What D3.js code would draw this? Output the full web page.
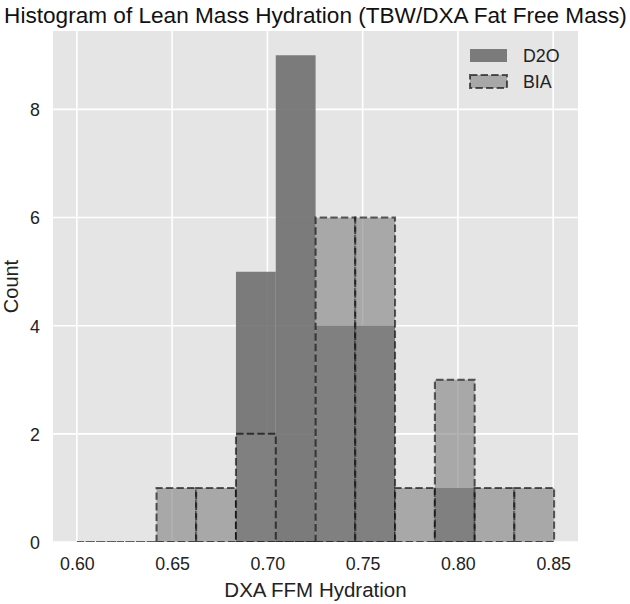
<!DOCTYPE html>
<html>
<head>
<meta charset="utf-8">
<script src="https://cdn.jsdelivr.net/npm/d3@7"></script>
<style>
  html, body { margin: 0; padding: 0; background: #ffffff; }
  svg { display: block; }
  text { font-family: "Liberation Sans", Arial, Helvetica, sans-serif; }
</style>
</head>
<body>
<svg id="chart" width="630" height="604"></svg>
<script>
// ---- data ----
const binEdges = [0.6000, 0.6209, 0.6418, 0.6626, 0.6835, 0.7044, 0.7253, 0.7461, 0.7670, 0.7879, 0.8088, 0.8296, 0.8505];
const d2oCounts = [0, 0, 0, 0, 5, 9, 4, 4, 0, 1, 0, 0];
const biaCounts = [0, 0, 1, 1, 2, 0, 6, 6, 1, 3, 1, 1];
const seriesNames = ["D2O", "BIA"];
const xTicks = [0.60, 0.65, 0.70, 0.75, 0.80, 0.85];
const yTicks = [0, 2, 4, 6, 8];
const titleText = "Histogram of Lean Mass Hydration (TBW/DXA Fat Free Mass)";
const xLabelText = "DXA FFM Hydration";
const yLabelText = "Count";

// ---- layout ----
const W = 630, H = 604;
const plot = { left: 53, right: 578, top: 31, bottom: 542 };

const svg = d3.select("#chart");

const lo = binEdges[0], hi = binEdges[binEdges.length - 1];
const pad = (hi - lo) * 0.05;
const x = d3.scaleLinear().domain([lo - pad, hi + pad]).range([plot.left, plot.right]);
const yMax = Math.max(d3.max(d2oCounts), d3.max(biaCounts)) * 1.05;
const y = d3.scaleLinear().domain([0, yMax]).range([plot.bottom, plot.top]);

// background
svg.append("rect")
  .attr("x", plot.left).attr("y", plot.top)
  .attr("width", plot.right - plot.left).attr("height", plot.bottom - plot.top)
  .attr("fill", "#e5e5e5");

svg.append("clipPath").attr("id", "plotclip")
  .append("rect")
  .attr("x", plot.left).attr("y", plot.top)
  .attr("width", plot.right - plot.left).attr("height", plot.bottom - plot.top);

// grid
const grid = svg.append("g");
grid.selectAll("line.vx").data(xTicks).enter().append("line")
  .attr("x1", d => x(d)).attr("x2", d => x(d))
  .attr("y1", plot.top).attr("y2", plot.bottom)
  .attr("stroke", "#ffffff").attr("stroke-width", 1.6);
grid.selectAll("line.hy").data(yTicks).enter().append("line")
  .attr("y1", d => y(d)).attr("y2", d => y(d))
  .attr("x1", plot.left).attr("x2", plot.right)
  .attr("stroke", "#ffffff").attr("stroke-width", 1.6);

const barsG = svg.append("g").attr("clip-path", "url(#plotclip)");

function barPath(i, c) {
  const x0 = x(binEdges[i]), x1 = x(binEdges[i + 1]);
  const y0 = y(0), y1 = y(c);
  return `M${x0},${y0}H${x1}V${y1}H${x0}Z`;
}

// D2O bars (filled, no edge)
barsG.selectAll("path.d2o").data(d2oCounts).enter().append("path")
  .attr("d", (c, i) => barPath(i, c))
  .attr("fill", "#6f6f6f").attr("fill-opacity", 0.9)
  .attr("stroke", "none");

// BIA bars (lighter, dashed edge)
barsG.selectAll("path.bia").data(biaCounts).enter().append("path")
  .attr("d", (c, i) => barPath(i, c))
  .attr("fill", "#838383").attr("fill-opacity", 0.62)
  .attr("stroke", "#000000").attr("stroke-opacity", 0.62)
  .attr("stroke-width", 2)
  .attr("stroke-dasharray", "7.4,3.2");

// axes (labels only, no spines)
const xAxis = d3.axisBottom(x).tickValues(xTicks).tickFormat(d3.format(".2f")).tickSize(0).tickPadding(0);
const gx = svg.append("g").attr("transform", `translate(0,${plot.bottom})`).call(xAxis);
gx.select(".domain").remove();
gx.selectAll("text")
  .attr("y", 28).attr("dy", null)
  .attr("font-size", 17.8).attr("fill", "#222")
  .style("font-family", '"Liberation Sans", Arial, sans-serif');

const yAxis = d3.axisLeft(y).tickValues(yTicks).tickFormat(d3.format("d")).tickSize(0).tickPadding(0);
const gy = svg.append("g").attr("transform", `translate(${plot.left},0)`).call(yAxis);
gy.select(".domain").remove();
gy.selectAll("text")
  .attr("x", -13).attr("dy", "0.36em")
  .attr("font-size", 17.8).attr("fill", "#222")
  .style("font-family", '"Liberation Sans", Arial, sans-serif');

// title
svg.append("text")
  .attr("x", (plot.left + plot.right) / 2).attr("y", 23)
  .attr("text-anchor", "middle")
  .attr("font-size", 22.6).attr("fill", "#111")
  .text(titleText);

// x label
svg.append("text")
  .attr("x", (plot.left + plot.right) / 2).attr("y", 597)
  .attr("text-anchor", "middle")
  .attr("font-size", 20.5).attr("fill", "#222")
  .text(xLabelText);

// y label
svg.append("text")
  .attr("transform", `translate(18,${(plot.top + plot.bottom) / 2}) rotate(-90)`)
  .attr("text-anchor", "middle")
  .attr("font-size", 20).attr("fill", "#222")
  .text(yLabelText);

// legend
const legend = svg.append("g");
const legendItems = [
  { name: seriesNames[0], fill: "#6f6f6f", fo: 0.9, stroke: "none" },
  { name: seriesNames[1], fill: "#838383", fo: 0.62, stroke: "#000" }
];
legendItems.forEach((d, i) => {
  const cy = 55.5 + i * 26;
  legend.append("rect")
    .attr("x", 470).attr("y", cy - 6.5).attr("width", 37).attr("height", 13)
    .attr("fill", d.fill).attr("fill-opacity", d.fo)
    .attr("stroke", d.stroke).attr("stroke-opacity", 0.62)
    .attr("stroke-width", d.stroke === "none" ? 0 : 2)
    .attr("stroke-dasharray", "7.4,3.2");
  legend.append("text")
    .attr("x", 523).attr("y", cy).attr("dy", "0.36em")
    .attr("font-size", 17.8).attr("fill", "#222")
    .text(d.name);
});
</script>
</body>
</html>
